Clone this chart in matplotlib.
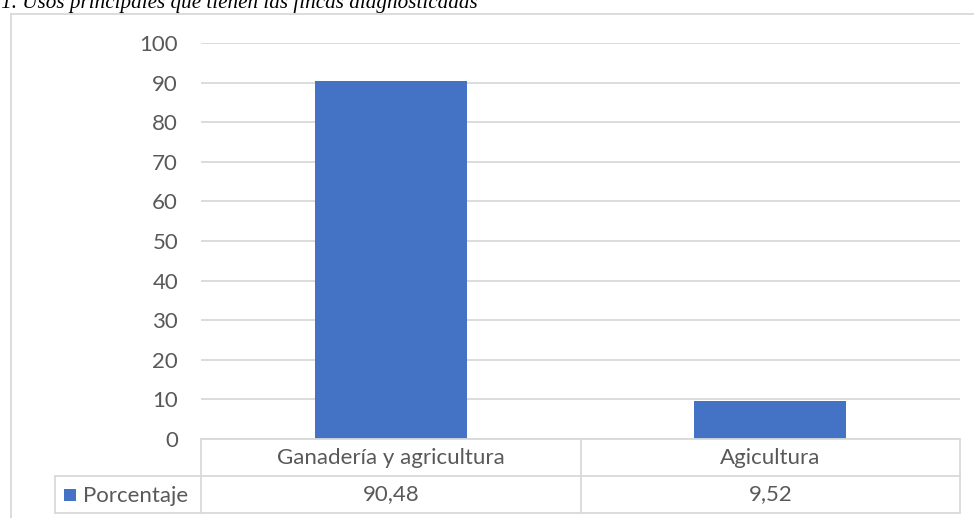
import matplotlib
matplotlib.use("Agg")
import matplotlib.pyplot as plt
from matplotlib.lines import Line2D
from matplotlib.patches import Rectangle
import matplotlib.transforms as mtransforms

categories = ["Ganadería y agricultura", "Agicultura"]
values = [90.48, 9.52]
value_labels = ["90,48", "9,52"]
series_name = "Porcentaje"
yticks = [0, 10, 20, 30, 40, 50, 60, 70, 80, 90, 100]
title = "Figura 1. Usos principales que tienen las fincas diagnosticadas"

W, H = 974, 518
BLUE = "#4472C4"
GRID = "#D9D9D9"
TXT = "#595959"
FONT = "Lato"
FS = 16

fig = plt.figure(figsize=(W / 100, H / 100), dpi=100)
fig.patch.set_facecolor("white")

def fx(px):
    return px / W

def fy(py):
    return 1 - py / H

# axes: x 201..960, y 43 (100) .. 439 (0)
ax = fig.add_axes([fx(201), fy(439), fx(960) - fx(201), fy(43) - fy(439)])
x = list(range(len(categories)))
ax.bar(x, values, width=0.4, color=BLUE, zorder=3)
ax.set_xlim(-0.5, len(categories) - 0.5)
ax.set_ylim(0, 100)
ax.set_yticks(yticks)
ax.set_yticklabels([str(t) for t in yticks], fontsize=FS, color=TXT, family=FONT)
ax.tick_params(axis="y", length=0, pad=16.5)
ax.set_xticks([])
ax.grid(axis="y", color=GRID, linewidth=1.3, zorder=0)
for s in ax.spines.values():
    s.set_visible(False)

# table below the axes
axh = 396.0
r1 = -37.0 / axh
r2 = -74.0 / axh
trans = mtransforms.blended_transform_factory(ax.transData, ax.transAxes)
lkw = dict(color=GRID, linewidth=1.3, clip_on=False, zorder=4)
n = len(categories)
left = (55 - 201) / 759
ax.plot([-0.5, n - 0.5], [0, 0], transform=trans, **lkw)
ax.plot([left, 1], [r1, r1], transform=ax.transAxes, **lkw)
ax.plot([left, 1], [r2, r2], transform=ax.transAxes, **lkw)
for b in [i - 0.5 for i in range(n + 1)]:
    ax.plot([b, b], [0, r2], transform=trans, **lkw)
ax.plot([left, left], [r1, r2], transform=ax.transAxes, **lkw)

for i, (c, v) in enumerate(zip(categories, value_labels)):
    ax.text(i, (0 + r1) / 2, c, transform=trans, ha="center", va="center",
            fontsize=FS, color=TXT, family=FONT)
    ax.text(i, (r1 + r2) / 2, v, transform=trans, ha="center", va="center",
            fontsize=FS, color=TXT, family=FONT)

# legend key in table
fig.patches.append(Rectangle((fx(64), fy(501)), fx(76) - fx(64), fy(489) - fy(501),
                             transform=fig.transFigure, facecolor=BLUE, edgecolor="none"))
fig.text(fx(83), fy(495.5), series_name, ha="left", va="center",
         fontsize=FS, color=TXT, family=FONT)

# chart frame
fig.add_artist(Line2D([fx(10.5), fx(10.5)], [fy(14), 0], transform=fig.transFigure,
                      color=GRID, linewidth=1.3))
fig.add_artist(Line2D([fx(10.5), 1], [fy(14), fy(14)], transform=fig.transFigure,
                      color=GRID, linewidth=1.3))

# partially visible caption (cut at the top edge as in the source)
fig.text(fx(478), fy(8), title, ha="right", va="baseline", fontsize=15.2,
         style="italic", family="Liberation Serif", color="black")

fig.savefig("out.png", dpi=100, facecolor="white")
